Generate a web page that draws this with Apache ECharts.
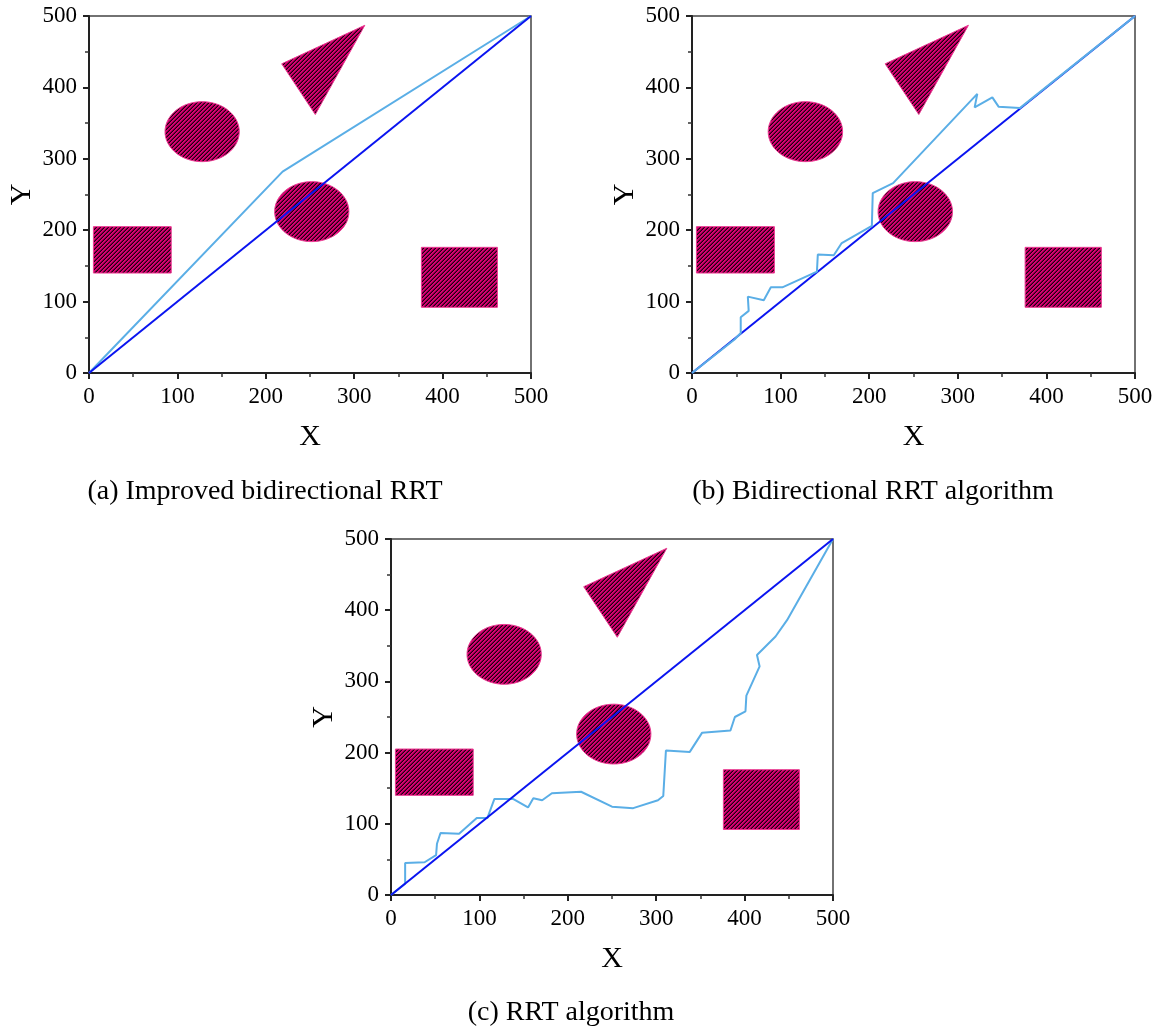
<!DOCTYPE html>
<html>
<head>
<meta charset="utf-8">
<script src="https://cdn.jsdelivr.net/npm/echarts@6/dist/echarts.min.js"></script>
<style>
  html, body { margin: 0; padding: 0; background: #ffffff; }
  #chart { width: 1161px; height: 1030px; }
</style>
</head>
<body>
<div id="chart"></div>
<script>
// ---- axis ticks (both axes share the same 0..500 workspace) ----
const tickValues = [0, 100, 200, 300, 400, 500];

// ---- panel captions ----
const panelCaptions = [
  '(a) Improved bidirectional RRT',
  '(b) Bidirectional RRT algorithm',
  '(c) RRT algorithm'
];

// ---- obstacles (workspace units) ----
const rectObstacles = [            // [x0, y0, x1, y1]
  [5, 140, 93, 205],
  [376, 92, 462, 176]
];
const circleObstacles = [          // [cx, cy, r]
  [128, 338, 42],
  [252, 226, 42]
];
const triangleObstacle = [[218, 433], [312, 487], [256, 362]];

// ---- paths ----
const straightLine = [[0, 0], [500, 500]];
const improvedBiRRTPath = [[0, 0], [219, 282], [500, 500]];
const biRRTPath = [
  [0, 0], [48, 47], [55, 56], [55, 78], [64, 87], [63, 107], [81, 102],
  [89, 120], [102, 120], [141, 142], [142, 166], [160, 165], [169, 182],
  [203, 206], [204, 252], [227, 266], [322, 391], [319, 372], [339, 386],
  [346, 373], [370, 371], [500, 500]
];
const rrtPath = [
  [0, 0], [16, 16], [16, 45], [38, 46], [51, 56], [52, 72], [56, 87],
  [77, 86], [97, 108], [109, 108], [117, 135], [138, 135], [155, 123],
  [161, 136], [171, 133], [182, 143], [215, 145], [250, 124], [274, 122],
  [302, 133], [308, 139], [311, 203], [338, 201], [352, 228], [384, 231],
  [389, 250], [401, 258], [402, 280], [417, 321], [414, 337], [435, 363],
  [448, 386], [500, 500]
];

// ---- styling ----
const SERIF = "'Liberation Serif', 'Times New Roman', serif";
const DIRECT_COLOR = '#0a14f0';
const PATH_COLOR = '#5aaee6';

// diagonal hatch used to fill the obstacles
function makeHatch() {
  const size = 4;
  const c = document.createElement('canvas');
  c.width = size; c.height = size;
  const ctx = c.getContext('2d');
  const img = ctx.createImageData(size, size);
  const shades = [[224, 0, 120], [210, 0, 108], [118, 0, 62], [26, 0, 16]];
  for (let y = 0; y < size; y++) {
    for (let x = 0; x < size; x++) {
      const s = shades[(x + y) % size];
      const i = (y * size + x) * 4;
      img.data[i] = s[0]; img.data[i + 1] = s[1]; img.data[i + 2] = s[2]; img.data[i + 3] = 255;
    }
  }
  ctx.putImageData(img, 0, 0);
  return c;
}
const hatchPattern = { image: makeHatch(), repeat: 'repeat' };

const obstacleShapes = []
  .concat(rectObstacles.map(r => ({ kind: 'rect', geom: r, center: [(r[0] + r[2]) / 2, (r[1] + r[3]) / 2] })))
  .concat(circleObstacles.map(c => ({ kind: 'circle', geom: c, center: [c[0], c[1]] })))
  .concat([{ kind: 'poly', geom: triangleObstacle,
             center: [(triangleObstacle[0][0] + triangleObstacle[1][0] + triangleObstacle[2][0]) / 3,
                      (triangleObstacle[0][1] + triangleObstacle[1][1] + triangleObstacle[2][1]) / 3] }]);

function renderObstacle(params, api) {
  const s = obstacleShapes[params.dataIndex];
  let pts;
  if (s.kind === 'rect') {
    const [x0, y0, x1, y1] = s.geom;
    pts = [[x0, y0], [x1, y0], [x1, y1], [x0, y1]].map(p => api.coord(p));
  } else if (s.kind === 'circle') {
    const [cx, cy, r] = s.geom;
    pts = [];
    for (let k = 0; k < 72; k++) {
      const t = (k / 72) * Math.PI * 2;
      pts.push(api.coord([cx + r * Math.cos(t), cy + r * Math.sin(t)]));
    }
  } else {
    pts = s.geom.map(p => api.coord(p));
  }
  return {
    type: 'polygon',
    shape: { points: pts },
    style: { fill: hatchPattern, stroke: '#ec3a92', lineWidth: 1 }
  };
}

// grid placement for the three panels
const panelGrids = [
  { left: 89, top: 16, width: 442, height: 357 },
  { left: 692, top: 16, width: 443, height: 357 },
  { left: 391, top: 539, width: 442, height: 356 }
];
const captionPos = [[265, 492], [873, 492], [571, 1013]];
const panelPaths = [improvedBiRRTPath, biRRTPath, rrtPath];

const tMin = tickValues[0];
const tMax = tickValues[tickValues.length - 1];
const tStep = tickValues[1] - tickValues[0];

function makeAxis(dim, idx) {
  const isX = dim === 'x';
  return {
    gridIndex: idx,
    type: 'value',
    min: tMin, max: tMax, interval: tStep,
    name: isX ? 'X' : 'Y',
    nameLocation: 'middle',
    nameGap: isX ? 49 : 52,
    nameTextStyle: { fontFamily: SERIF, fontSize: 30, color: '#000' },
    axisLine: { show: true, onZero: false, lineStyle: { color: '#222', width: 2 } },
    axisTick: { show: true, length: 6, lineStyle: { color: '#222', width: 2 } },
    minorTick: { show: true, splitNumber: 2, length: 4, lineStyle: { color: '#333', width: 1.5 } },
    splitLine: { show: false },
    minorSplitLine: { show: false },
    axisLabel: { fontFamily: SERIF, fontSize: 23, color: '#000', margin: isX ? 12 : 12 }
  };
}

const grids = panelGrids.map(g => Object.assign({
  show: true, borderColor: '#444', borderWidth: 1.5, backgroundColor: 'transparent',
  containLabel: false, outerBoundsMode: 'none'
}, g));

const xAxes = panelGrids.map((_, i) => makeAxis('x', i));
const yAxes = panelGrids.map((_, i) => makeAxis('y', i));

const series = [];
panelGrids.forEach((_, i) => {
  series.push({
    type: 'custom',
    xAxisIndex: i, yAxisIndex: i,
    renderItem: renderObstacle,
    data: obstacleShapes.map(s => s.center),
    silent: true, z: 1
  });
  series.push({
    type: 'line',
    xAxisIndex: i, yAxisIndex: i,
    data: straightLine,
    showSymbol: false, symbol: 'none',
    lineStyle: { color: DIRECT_COLOR, width: 2 },
    silent: true, z: 3, animation: false
  });
  series.push({
    type: 'line',
    xAxisIndex: i, yAxisIndex: i,
    data: panelPaths[i],
    showSymbol: false, symbol: 'none',
    lineStyle: { color: PATH_COLOR, width: 2 },
    silent: true, z: i === 1 ? 4 : 2, animation: false
  });
});

const chart = echarts.init(document.getElementById('chart'), null, { renderer: 'canvas' });
chart.setOption({
  animation: false,
  backgroundColor: '#ffffff',
  grid: grids,
  xAxis: xAxes,
  yAxis: yAxes,
  series: series,
  graphic: panelCaptions.map((txt, i) => ({
    type: 'text',
    x: captionPos[i][0],
    y: captionPos[i][1],
    style: {
      text: txt,
      fontFamily: SERIF,
      fontSize: 28,
      fill: '#000',
      align: 'center',
      verticalAlign: 'middle'
    }
  }))
});
</script>
</body>
</html>
